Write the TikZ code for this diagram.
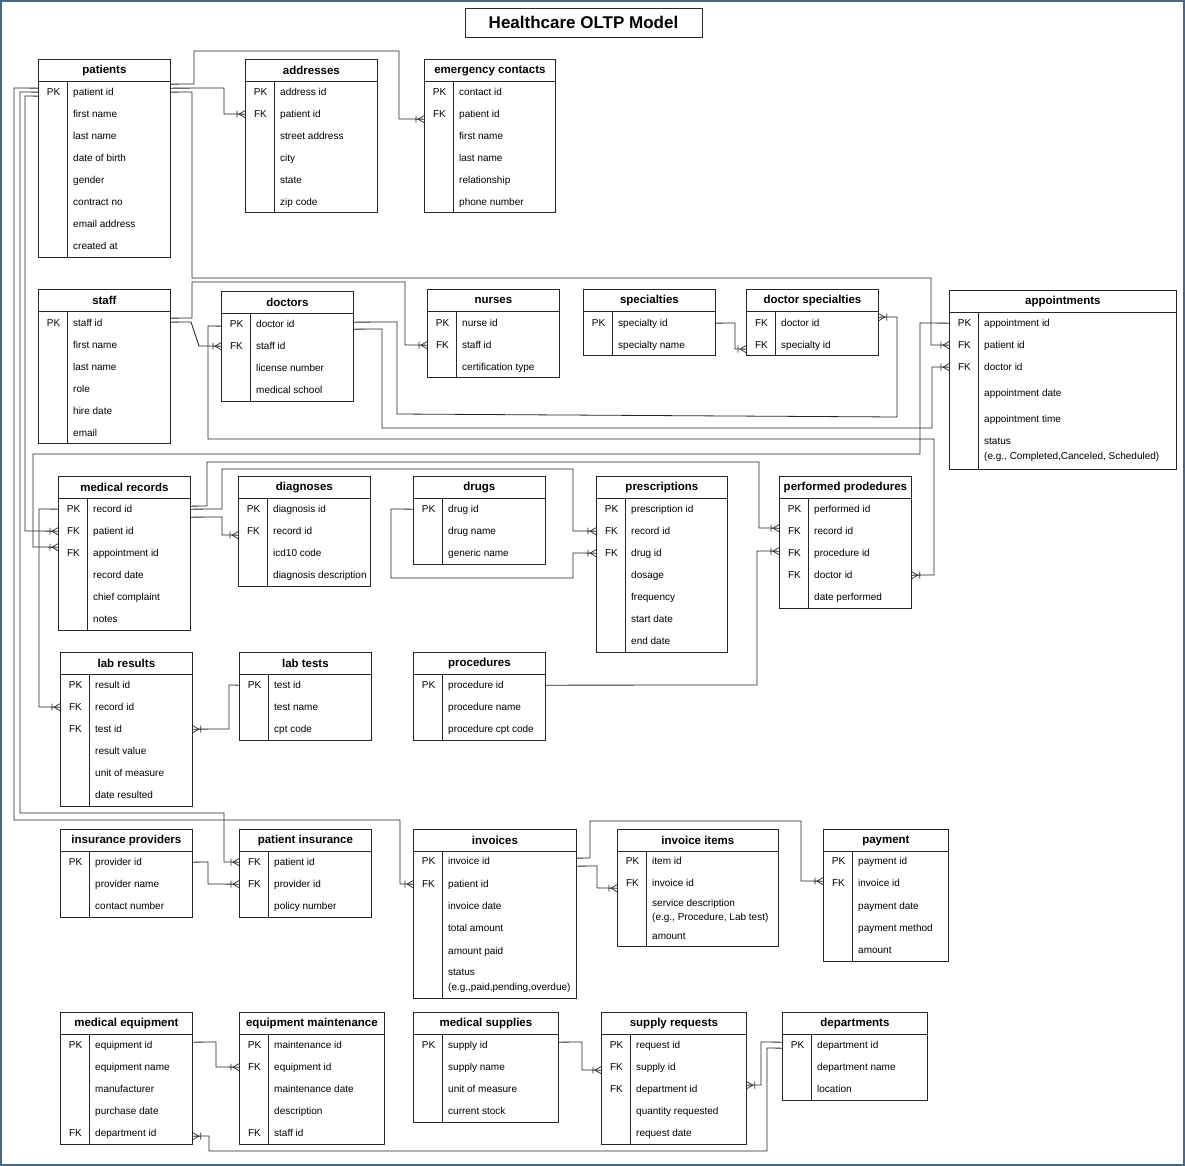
\documentclass[tikz,border=0pt]{standalone}
\usepackage{fontspec}
\setmainfont{Liberation Sans}
\usetikzlibrary{decorations.markings}
\definecolor{frameblue}{RGB}{74,104,134}
\tikzset{
 tbox/.style={draw=black!85, line width=0.8pt, inner sep=0pt},
 thead/.style={font=\bfseries\fontsize{11.5}{13}\selectfont, inner sep=0pt},
 tkey/.style={font=\fontsize{10}{12}\selectfont, inner sep=0pt, anchor=base},
 tfield/.style={font=\fontsize{10}{14.5}\selectfont, inner sep=0pt, anchor=base west},
 tfieldm/.style={font=\fontsize{10}{14.5}\selectfont, inner sep=0pt, anchor=west, align=left},
 conn/.style={draw=black!85, line width=0.8pt},
 crow/.style={postaction={decorate}, decoration={markings, mark=at position 1 with {\draw[line width=0.7pt, black!85] (-8pt,-3.5pt)--(-8pt,3.5pt) (-6pt,0pt)--(0pt,3.5pt) (-6pt,0pt)--(0pt,-3.5pt);}}},
}
\newcommand{\ertab}[6]{%
 \def\tx{#2}%
 \node[tbox, anchor=north west, minimum width=#4pt, minimum height=#5pt] (#1) at (#2,#3) {};
 \node[thead] (#1-h) at ([yshift=-11.5pt]#1.north) {#6};
 \draw[black!85, line width=0.8pt] ([yshift=-22pt]#1.north west) -- ([yshift=-22pt]#1.north east);
 \draw[black!85, line width=0.8pt] ([xshift=29pt,yshift=-22pt]#1.north west) -- ([xshift=29pt]#1.south west);
}
\newcommand{\errow}[5]{%
 \node[tkey] (#1-k#2) at (\tx+15.5,#3+3.6) {#4};
 \node[tfield] (#1-#2) at (\tx+35,#3+3.6) {#5};
}
\newcommand{\errowm}[4]{%
 \node[tfieldm] (#1-#2) at (\tx+35,#3) {#4};
}
\begin{document}
\begin{tikzpicture}[x=1pt,y=-1pt]
\useasboundingbox (0,0) rectangle (1185,1166);
\draw[frameblue, line width=2pt] (1,1) rectangle (1184,1165);
\node[draw=black!85, line width=0.9pt, minimum width=237pt, minimum height=29pt, inner sep=0pt, font=\bfseries\fontsize{17}{20}\selectfont] (title) at (583.5,22.5) {Healthcare OLTP Model};

% patients
\ertab{pat}{38}{59}{132}{198}{patients}
\errow{pat}{1}{92}{PK}{patient id}
\errow{pat}{2}{114}{}{first name}
\errow{pat}{3}{136}{}{last name}
\errow{pat}{4}{158}{}{date of birth}
\errow{pat}{5}{180}{}{gender}
\errow{pat}{6}{202}{}{contract no}
\errow{pat}{7}{224}{}{email address}
\errow{pat}{8}{246}{}{created at}
% addresses
\ertab{addr}{245}{59}{132}{153}{addresses}
\errow{addr}{1}{92}{PK}{address id}
\errow{addr}{2}{114}{FK}{patient id}
\errow{addr}{3}{136}{}{street address}
\errow{addr}{4}{158}{}{city}
\errow{addr}{5}{180}{}{state}
\errow{addr}{6}{202}{}{zip code}
% emergency contacts
\ertab{emer}{424}{59}{131}{153}{emergency contacts}
\errow{emer}{1}{92}{PK}{contact id}
\errow{emer}{2}{114}{FK}{patient id}
\errow{emer}{3}{136}{}{first name}
\errow{emer}{4}{158}{}{last name}
\errow{emer}{5}{180}{}{relationship}
\errow{emer}{6}{202}{}{phone number}
% staff
\ertab{staff}{38}{289}{132}{154}{staff}
\errow{staff}{1}{323}{PK}{staff id}
\errow{staff}{2}{345}{}{first name}
\errow{staff}{3}{367}{}{last name}
\errow{staff}{4}{389}{}{role}
\errow{staff}{5}{411}{}{hire date}
\errow{staff}{6}{433}{}{email}
% doctors
\ertab{doc}{221}{291}{132}{110}{doctors}
\errow{doc}{1}{324}{PK}{doctor id}
\errow{doc}{2}{346}{FK}{staff id}
\errow{doc}{3}{368}{}{license number}
\errow{doc}{4}{390}{}{medical school}
% nurses
\ertab{nur}{427}{289}{132}{88}{nurses}
\errow{nur}{1}{323}{PK}{nurse id}
\errow{nur}{2}{345}{FK}{staff id}
\errow{nur}{3}{367}{}{certification type}
% specialties
\ertab{spec}{583}{289}{132}{66}{specialties}
\errow{spec}{1}{323}{PK}{specialty id}
\errow{spec}{2}{345}{}{specialty name}
% doctor specialties
\ertab{dspec}{746}{289}{132}{66}{doctor specialties}
\errow{dspec}{1}{323}{FK}{doctor id}
\errow{dspec}{2}{345}{FK}{specialty id}
% appointments
\ertab{appt}{949}{290}{227}{179}{appointments}
\errow{appt}{1}{323}{PK}{appointment id}
\errow{appt}{2}{345}{FK}{patient id}
\errow{appt}{3}{367}{FK}{doctor id}
\errow{appt}{4}{393}{}{appointment date}
\errow{appt}{5}{419}{}{appointment time}
\errowm{appt}{6}{450}{status\\(e.g., Completed,Canceled, Scheduled)}
% medical records
\ertab{mrec}{58}{476}{132}{154}{medical records}
\errow{mrec}{1}{509}{PK}{record id}
\errow{mrec}{2}{531}{FK}{patient id}
\errow{mrec}{3}{553}{FK}{appointment id}
\errow{mrec}{4}{575}{}{record date}
\errow{mrec}{5}{597}{}{chief complaint}
\errow{mrec}{6}{619}{}{notes}
% diagnoses
\ertab{diag}{238}{476}{132}{110}{diagnoses}
\errow{diag}{1}{509}{PK}{diagnosis id}
\errow{diag}{2}{531}{FK}{record id}
\errow{diag}{3}{553}{}{icd10 code}
\errow{diag}{4}{575}{}{diagnosis description}
% drugs
\ertab{drug}{413}{476}{132}{88}{drugs}
\errow{drug}{1}{509}{PK}{drug id}
\errow{drug}{2}{531}{}{drug name}
\errow{drug}{3}{553}{}{generic name}
% prescriptions
\ertab{presc}{596}{476}{131}{176}{prescriptions}
\errow{presc}{1}{509}{PK}{prescription id}
\errow{presc}{2}{531}{FK}{record id}
\errow{presc}{3}{553}{FK}{drug id}
\errow{presc}{4}{575}{}{dosage}
\errow{presc}{5}{597}{}{frequency}
\errow{presc}{6}{619}{}{start date}
\errow{presc}{7}{641}{}{end date}
% performed prodedures
\ertab{perf}{779}{476}{132}{132}{performed prodedures}
\errow{perf}{1}{509}{PK}{performed id}
\errow{perf}{2}{531}{FK}{record id}
\errow{perf}{3}{553}{FK}{procedure id}
\errow{perf}{4}{575}{FK}{doctor id}
\errow{perf}{5}{597}{}{date performed}
% lab results
\ertab{labr}{60}{652}{132}{154}{lab results}
\errow{labr}{1}{685}{PK}{result id}
\errow{labr}{2}{707}{FK}{record id}
\errow{labr}{3}{729}{FK}{test id}
\errow{labr}{4}{751}{}{result value}
\errow{labr}{5}{773}{}{unit of measure}
\errow{labr}{6}{795}{}{date resulted}
% lab tests
\ertab{labt}{239}{652}{132}{88}{lab tests}
\errow{labt}{1}{685}{PK}{test id}
\errow{labt}{2}{707}{}{test name}
\errow{labt}{3}{729}{}{cpt code}
% procedures
\ertab{proc}{413}{652}{132}{88}{procedures}
\errow{proc}{1}{685}{PK}{procedure id}
\errow{proc}{2}{707}{}{procedure name}
\errow{proc}{3}{729}{}{procedure cpt code}
% insurance providers
\ertab{insp}{60}{829}{132}{88}{insurance providers}
\errow{insp}{1}{862}{PK}{provider id}
\errow{insp}{2}{884}{}{provider name}
\errow{insp}{3}{906}{}{contact number}
% patient insurance
\ertab{pins}{239}{829}{132}{88}{patient insurance}
\errow{pins}{1}{862}{FK}{patient id}
\errow{pins}{2}{884}{FK}{provider id}
\errow{pins}{3}{906}{}{policy number}
% invoices
\ertab{inv}{413}{829}{163}{169}{invoices}
\errow{inv}{1}{861}{PK}{invoice id}
\errow{inv}{2}{884}{FK}{patient id}
\errow{inv}{3}{906}{}{invoice date}
\errow{inv}{4}{928}{}{total amount}
\errow{inv}{5}{951}{}{amount paid}
\errowm{inv}{6}{981}{status\\(e.g.,paid,pending,overdue)}
% invoice items
\ertab{invi}{617}{829}{161}{117}{invoice items}
\errow{invi}{1}{861}{PK}{item id}
\errow{invi}{2}{883}{FK}{invoice id}
\errowm{invi}{3}{911}{service description\\(e.g., Procedure, Lab test)}
\errow{invi}{4}{936}{}{amount}
% payment
\ertab{pay}{823}{829}{125}{132}{payment}
\errow{pay}{1}{861}{PK}{payment id}
\errow{pay}{2}{883}{FK}{invoice id}
\errow{pay}{3}{906}{}{payment date}
\errow{pay}{4}{928}{}{payment method}
\errow{pay}{5}{950}{}{amount}
% medical equipment
\ertab{meq}{60}{1012}{132}{132}{medical equipment}
\errow{meq}{1}{1045}{PK}{equipment id}
\errow{meq}{2}{1067}{}{equipment name}
\errow{meq}{3}{1089}{}{manufacturer}
\errow{meq}{4}{1111}{}{purchase date}
\errow{meq}{5}{1133}{FK}{department id}
% equipment maintenance
\ertab{emnt}{239}{1012}{145}{132}{equipment maintenance}
\errow{emnt}{1}{1045}{PK}{maintenance id}
\errow{emnt}{2}{1067}{FK}{equipment id}
\errow{emnt}{3}{1089}{}{maintenance date}
\errow{emnt}{4}{1111}{}{description}
\errow{emnt}{5}{1133}{FK}{staff id}
% medical supplies
\ertab{msup}{413}{1012}{145}{110}{medical supplies}
\errow{msup}{1}{1045}{PK}{supply id}
\errow{msup}{2}{1067}{}{supply name}
\errow{msup}{3}{1089}{}{unit of measure}
\errow{msup}{4}{1111}{}{current stock}
% supply requests
\ertab{sreq}{601}{1012}{145}{132}{supply requests}
\errow{sreq}{1}{1045}{PK}{request id}
\errow{sreq}{2}{1067}{FK}{supply id}
\errow{sreq}{3}{1089}{FK}{department id}
\errow{sreq}{4}{1111}{}{quantity requested}
\errow{sreq}{5}{1133}{}{request date}
% departments
\ertab{dept}{782}{1012}{145}{88}{departments}
\errow{dept}{1}{1045}{PK}{department id}
\errow{dept}{2}{1067}{}{department name}
\errow{dept}{3}{1089}{}{location}

% ---------- connectors ----------
% patients right side
\draw[conn,crow] ([yshift=8pt]pat.east |- pat-k1) -- (194,84) -- (194,51) -- (399,51) -- (399,119) -- ([yshift=-5pt]emer.west |- emer-k2);
\draw[conn,crow] ([yshift=4pt]pat.east |- pat-k1) -- (224,88) -- (224,114) -- (addr.west |- addr-k2);
\draw[conn,crow] (pat.east |- pat-k1) -- (192,92) -- (192,278) -- (931,278) -- (931,345) -- (appt.west |- appt-k2);
% patients left side
\draw[conn,crow] ([yshift=4pt]pat.west |- pat-k1) -- (14,88) -- (14,820) -- (400,820) -- (400,884) -- (inv.west |- inv-k2);
\draw[conn,crow] (pat.west |- pat-k1) -- (20,92) -- (20,813) -- (224,813) -- (224,862) -- (pins.west |- pins-k1);
\draw[conn,crow] ([yshift=-4pt]pat.west |- pat-k1) -- (25,96) -- (25,531) -- (mrec.west |- mrec-k2);
% staff
\draw[conn,crow] ([yshift=5pt]staff.east |- staff-k1) -- (192,318) -- (192,282) -- (405,282) -- (405,345) -- (nur.west |- nur-k2);
\draw[conn,crow] ([yshift=1pt]staff.east |- staff-k1) -- (191,322) -- (199,346) -- (doc.west |- doc-k2);
% doctors
\draw[conn,crow] ([yshift=2pt]doc.east |- doc-k1) -- (397,322) -- (397,414) -- (897,417) -- (897,317) -- ([yshift=6pt]dspec.east |- dspec-k1);
\draw[conn,crow] ([yshift=-5pt]doc.east |- doc-k1) -- (382,329) -- (382,428) -- (932,428) -- (932,367) -- (appt.west |- appt-k3);
\draw[conn,crow] ([yshift=-2pt]doc.west |- doc-k1) -- (208,326) -- (208,439) -- (934,439) -- (934,575) -- (perf.east |- perf-k4);
% specialties
\draw[conn,crow] (spec.east |- spec-k1) -- (735,323) -- (735,349) -- ([yshift=-4pt]dspec.west |- dspec-k2);
% appointments -> medical records
\draw[conn,crow] (appt.west |- appt-k1) -- (920,323) -- (920,454) -- (33,454) -- (33,547) -- ([yshift=6pt]mrec.west |- mrec-k3);
% medical records
\draw[conn,crow] ([yshift=3pt]mrec.east |- mrec-k1) -- (207,506) -- (207,462) -- (759,462) -- (759,528) -- ([yshift=3pt]perf.west |- perf-k2);
\draw[conn,crow] (mrec.east |- mrec-k1) -- (222,509) -- (222,469) -- (573,469) -- (573,531) -- (presc.west |- presc-k2);
\draw[conn,crow] ([yshift=-8pt]mrec.east |- mrec-k1) -- (222,517) -- (222,535) -- ([yshift=-4pt]diag.west |- diag-k2);
\draw[conn,crow] (mrec.west |- mrec-k1) -- (39,509) -- (39,707) -- (labr.west |- labr-k2);
% drugs
\draw[conn,crow] (drug.west |- drug-k1) -- (391,509) -- (391,578) -- (573,578) -- (573,553) -- (presc.west |- presc-k3);
% procedures
\draw[conn,crow] (proc.east |- proc-k1) -- (757,685) -- (757,551) -- ([yshift=2pt]perf.west |- perf-k3);
% lab tests
\draw[conn,crow] (labt.west |- labt-k1) -- (229,685) -- (229,729) -- (labr.east |- labr-k3);
% insurance
\draw[conn,crow] (insp.east |- insp-k1) -- (208,862) -- (208,884) -- (pins.west |- pins-k2);
% invoices
\draw[conn,crow] ([yshift=3pt]inv.east |- inv-k1) -- (590,858) -- (590,821) -- (801,821) -- (801,881) -- ([yshift=2pt]pay.west |- pay-k2);
\draw[conn,crow] ([yshift=-5pt]inv.east |- inv-k1) -- (597,866) -- (597,888) -- ([yshift=-5pt]invi.west |- invi-k2);
% equipment / supplies / departments
\draw[conn,crow] ([yshift=3pt]meq.east |- meq-k1) -- (216,1042) -- (216,1067) -- (emnt.west |- emnt-k2);
\draw[conn,crow] ([yshift=3pt]msup.east |- msup-k1) -- (582,1042) -- (582,1070) -- ([yshift=-3pt]sreq.west |- sreq-k2);
\draw[conn,crow] ([yshift=3pt]dept.west |- dept-k1) -- (761,1042) -- (761,1085) -- ([yshift=4pt]sreq.east |- sreq-k3);
\draw[conn,crow] ([yshift=-3pt]dept.west |- dept-k1) -- (767,1048) -- (767,1151) -- (209,1151) -- (209,1136) -- ([yshift=-3pt]meq.east |- meq-k5);
\end{tikzpicture}
\end{document}
